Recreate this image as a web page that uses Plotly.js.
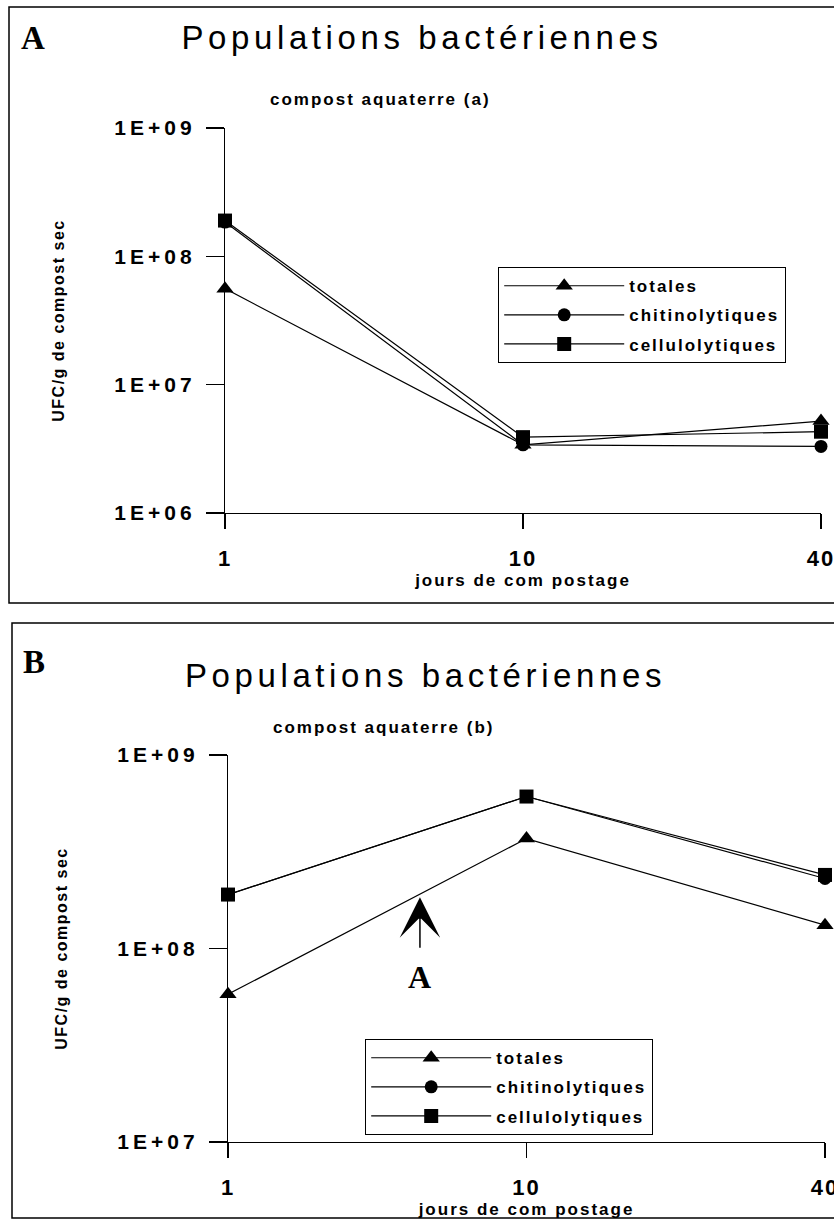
<!DOCTYPE html>
<html>
<head>
<meta charset="utf-8">
<script src="https://cdn.plot.ly/plotly-3.0.1.min.js"></script>
<style>
html,body{margin:0;padding:0;background:#fff;}
#chart{width:834px;height:1220px;}
</style>
</head>
<body>
<div id="chart"></div>
<script>
// ---- data ----
const days = ['1', '10', '40'];
const seriesNames = ['totales', 'chitinolytiques', 'cellulolytiques'];
const totalesA = [5.6e7, 3.4e6, 5.2e6];
const chitinoA = [1.85e8, 3.4e6, 3.3e6];
const celluloA = [1.9e8, 3.9e6, 4.3e6];
const totalesB = [5.8e7, 3.7e8, 1.32e8];
const chitinoB = [1.9e8, 6.1e8, 2.3e8];
const celluloB = [1.9e8, 6.1e8, 2.4e8];
const yTickValsA = [1e6, 1e7, 1e8, 1e9];
const yTickTextA = ['1E+06', '1E+07', '1E+08', '1E+09'];
const yTickValsB = [1e7, 1e8, 1e9];
const yTickTextB = ['1E+07', '1E+08', '1E+09'];
const arrowPoint = {x: 0.643, y: 1.84e8};

// ---- helpers ----
const W = 834, H = 1220;
const px = v => v / W;
const py = v => 1 - v / H;
const sp = (t, ls) => '<span style="letter-spacing:' + ls + 'px">' + t + '</span>';
const SANS = 'Liberation Sans, Arial, sans-serif';
const SERIF = 'Liberation Serif, Times New Roman, serif';
const symbols = ['triangle-up', 'circle', 'square'];
const sizes = [15, 13, 14];

function mk(y, i, xa, ya, leg, grp) {
  return {
    x: days, y: y, name: sp(seriesNames[i], 2), type: 'scatter', mode: 'lines+markers',
    xaxis: xa, yaxis: ya, legend: leg, legendgroup: grp + i, cliponaxis: false,
    line: {color: '#000', width: 1.2},
    marker: {symbol: symbols[i], size: sizes[i], color: '#000'}
  };
}

const data = [
  mk(totalesA, 0, 'x', 'y', 'legend', 'a'),
  mk(chitinoA, 1, 'x', 'y', 'legend', 'a'),
  mk(celluloA, 2, 'x', 'y', 'legend', 'a'),
  mk(totalesB, 0, 'x2', 'y2', 'legend2', 'b'),
  mk(chitinoB, 1, 'x2', 'y2', 'legend2', 'b'),
  mk(celluloB, 2, 'x2', 'y2', 'legend2', 'b')
];

function xax(domain, anchor) {
  return {
    type: 'category', domain: domain, anchor: anchor, range: [0, 2],
    showline: true, linecolor: '#000', linewidth: 1.2, showgrid: false, zeroline: false,
    ticks: 'outside', ticklen: 15, tickwidth: 1.2, tickcolor: '#000',
    ticklabelstandoff: 10,
    tickvals: days, ticktext: days.map(d => sp(d, 2)),
    tickfont: {family: SANS, size: 22, weight: 'bold', color: '#000'},
    title: {text: sp('jours de com postage', 2), standoff: 2,
            font: {family: SANS, size: 17, weight: 'bold', color: '#000'}},
    automargin: false, fixedrange: true
  };
}
function yax(domain, anchor, range, vals, txt) {
  return {
    type: 'log', domain: domain, anchor: anchor, range: range,
    showline: true, linecolor: '#000', linewidth: 1.2, showgrid: false, zeroline: false,
    ticks: 'outside', ticklen: 18, tickwidth: 1.2, tickcolor: '#000',
    ticklabelstandoff: 6,
    tickvals: vals, ticktext: txt.map(t => sp(t, 4)),
    tickfont: {family: SANS, size: 21, weight: 'bold', color: '#000'},
    title: {text: sp('UFC/g de compost sec', 1.5), standoff: 45,
            font: {family: SANS, size: 16, weight: 'bold', color: '#000'}},
    automargin: false, fixedrange: true
  };
}

const legendStyle = {
  xanchor: 'left', yanchor: 'top', bgcolor: '#fff',
  bordercolor: '#000', borderwidth: 1.2, itemwidth: 120,
  font: {family: SANS, size: 17, weight: 'bold', color: '#000'},
  tracegroupgap: 4
};

const titleFont = {family: SANS, size: 33, color: '#000'};
const subFont = {family: SANS, size: 17, weight: 'bold', color: '#000'};
const letterFont = {family: SERIF, size: 33, weight: 'bold', color: '#000'};

const layout = {
  width: W, height: H,
  margin: {l: 0, r: 0, t: 0, b: 0},
  paper_bgcolor: '#fff', plot_bgcolor: 'rgba(0,0,0,0)',
  showlegend: true,
  xaxis: xax([px(225), px(821)], 'y'),
  yaxis: yax([py(513), py(128)], 'x', [6, 9], yTickValsA, yTickTextA),
  xaxis2: xax([px(228), px(825)], 'y2'),
  yaxis2: yax([py(1142), py(755)], 'x2', [7, 9], yTickValsB, yTickTextB),
  legend: Object.assign({x: px(498), y: py(267)}, legendStyle),
  legend2: Object.assign({x: px(365), y: py(1039)}, legendStyle),
  title: {text: sp('Populations bactériennes', 4.6), font: titleFont,
          x: px(422), xanchor: 'center', y: py(37), yanchor: 'middle', xref: 'paper', yref: 'paper'},
  shapes: [
    {type: 'rect', xref: 'paper', yref: 'paper', x0: px(9), x1: px(845), y0: py(603), y1: py(7),
     line: {color: '#000', width: 1.5}},
    {type: 'rect', xref: 'paper', yref: 'paper', x0: px(12), x1: px(845), y0: py(1218), y1: py(623),
     line: {color: '#000', width: 1.5}}
  ],
  annotations: [
    {text: 'A', xref: 'paper', yref: 'paper', x: px(19), y: py(38), xanchor: 'left', yanchor: 'middle',
     showarrow: false, font: letterFont},
    {text: 'B', xref: 'paper', yref: 'paper', x: px(21), y: py(662), xanchor: 'left', yanchor: 'middle',
     showarrow: false, font: letterFont},
    {text: sp('compost aquaterre (a)', 2), xref: 'paper', yref: 'paper', x: px(380), y: py(100),
     xanchor: 'center', yanchor: 'middle', showarrow: false, font: subFont},
    {text: sp('Populations bactériennes', 4.6), xref: 'paper', yref: 'paper', x: px(425), y: py(675),
     xanchor: 'center', yanchor: 'middle', showarrow: false, font: titleFont},
    {text: sp('compost aquaterre (b)', 2), xref: 'paper', yref: 'paper', x: px(383), y: py(727),
     xanchor: 'center', yanchor: 'middle', showarrow: false, font: subFont},
    {text: 'A', xref: 'x2', yref: 'y2', x: arrowPoint.x, y: Math.log10(arrowPoint.y),
     showarrow: true, ax: 0, ay: 80, arrowhead: 3, arrowsize: 4.5, arrowwidth: 1.5, arrowcolor: '#000',
     startstandoff: 10, font: {family: SERIF, size: 32, weight: 'bold', color: '#000'}}
  ]
};

Plotly.newPlot('chart', data, layout, {staticPlot: true, displayModeBar: false});
</script>
</body>
</html>
